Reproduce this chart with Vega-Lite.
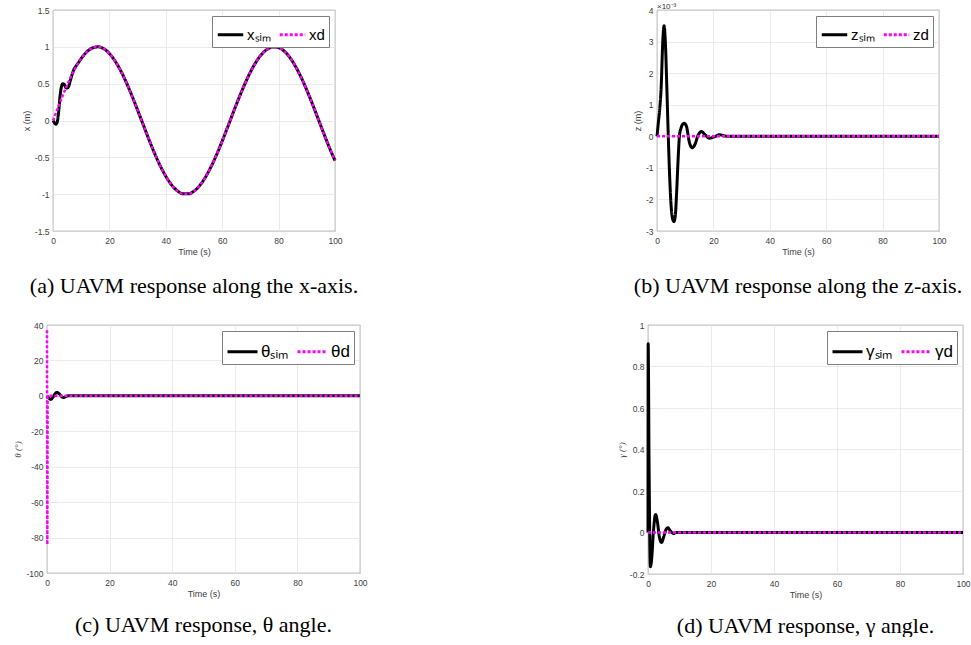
{
  "$schema": "https://vega.github.io/schema/vega-lite/v6.json",
  "padding": {"left": 13, "top": 2, "right": 0, "bottom": 0},
  "background": "white",
  "bounds": "full",
  "spacing": 23,
  "resolve": {"scale": {"color": "independent", "strokeDash": "independent", "x": "independent", "y": "independent"}, "legend": {"color": "independent", "strokeDash": "independent"}},
  "datasets": {
    "a": [
      {"t": 0, "v": 0, "s": "sim"}, {"t": 0.5, "v": -0.03, "s": "sim"}, {"t": 1, "v": -0.05, "s": "sim"}, {"t": 1.5, "v": -0.02, "s": "sim"}, {"t": 2, "v": 0.12, "s": "sim"}, {"t": 2.5, "v": 0.33, "s": "sim"}, {"t": 3, "v": 0.46, "s": "sim"}, {"t": 3.5, "v": 0.5, "s": "sim"}, {"t": 4, "v": 0.49, "s": "sim"}, {"t": 4.5, "v": 0.45, "s": "sim"}, {"t": 5, "v": 0.44, "s": "sim"}, {"t": 5.5, "v": 0.46, "s": "sim"}, {"t": 6, "v": 0.52, "s": "sim"}, {"t": 6.5, "v": 0.59, "s": "sim"}, {"t": 7, "v": 0.65, "s": "sim"}, {"t": 7.5, "v": 0.7, "s": "sim"}, {"t": 8, "v": 0.73, "s": "sim"}, {"t": 9, "v": 0.785, "s": "sim"},
      {"t": 10, "v": 0.841, "s": "sim"}, {"t": 12, "v": 0.932, "s": "sim"}, {"t": 14, "v": 0.985, "s": "sim"}, {"t": 16, "v": 1.0, "s": "sim"}, {"t": 18, "v": 0.974, "s": "sim"}, {"t": 20, "v": 0.909, "s": "sim"}, {"t": 22, "v": 0.808, "s": "sim"}, {"t": 24, "v": 0.676, "s": "sim"}, {"t": 26, "v": 0.516, "s": "sim"}, {"t": 28, "v": 0.335, "s": "sim"}, {"t": 30, "v": 0.141, "s": "sim"}, {"t": 32, "v": -0.058, "s": "sim"}, {"t": 34, "v": -0.256, "s": "sim"}, {"t": 36, "v": -0.443, "s": "sim"}, {"t": 38, "v": -0.612, "s": "sim"}, {"t": 40, "v": -0.757, "s": "sim"}, {"t": 42, "v": -0.872, "s": "sim"}, {"t": 44, "v": -0.952, "s": "sim"}, {"t": 46, "v": -0.994, "s": "sim"}, {"t": 48, "v": -0.996, "s": "sim"}, {"t": 50, "v": -0.959, "s": "sim"}, {"t": 52, "v": -0.884, "s": "sim"}, {"t": 54, "v": -0.773, "s": "sim"}, {"t": 56, "v": -0.631, "s": "sim"}, {"t": 58, "v": -0.465, "s": "sim"}, {"t": 60, "v": -0.279, "s": "sim"}, {"t": 62, "v": -0.083, "s": "sim"}, {"t": 64, "v": 0.117, "s": "sim"}, {"t": 66, "v": 0.312, "s": "sim"}, {"t": 68, "v": 0.494, "s": "sim"}, {"t": 70, "v": 0.657, "s": "sim"}, {"t": 72, "v": 0.794, "s": "sim"}, {"t": 74, "v": 0.899, "s": "sim"}, {"t": 76, "v": 0.968, "s": "sim"}, {"t": 78, "v": 0.999, "s": "sim"}, {"t": 80, "v": 0.989, "s": "sim"}, {"t": 82, "v": 0.941, "s": "sim"}, {"t": 84, "v": 0.855, "s": "sim"}, {"t": 86, "v": 0.734, "s": "sim"}, {"t": 88, "v": 0.585, "s": "sim"}, {"t": 90, "v": 0.412, "s": "sim"}, {"t": 92, "v": 0.223, "s": "sim"}, {"t": 94, "v": 0.025, "s": "sim"}, {"t": 96, "v": -0.174, "s": "sim"}, {"t": 98, "v": -0.367, "s": "sim"}, {"t": 100, "v": -0.544, "s": "sim"},
      {"t": 0, "v": 0, "s": "d"}, {"t": 1, "v": 0.1, "s": "d"}, {"t": 2, "v": 0.199, "s": "d"}, {"t": 3, "v": 0.296, "s": "d"}, {"t": 4, "v": 0.389, "s": "d"}, {"t": 5, "v": 0.479, "s": "d"}, {"t": 6, "v": 0.565, "s": "d"}, {"t": 7, "v": 0.644, "s": "d"}, {"t": 8, "v": 0.717, "s": "d"}, {"t": 9, "v": 0.783, "s": "d"},
      {"t": 10, "v": 0.841, "s": "d"}, {"t": 12, "v": 0.932, "s": "d"}, {"t": 14, "v": 0.985, "s": "d"}, {"t": 16, "v": 1.0, "s": "d"}, {"t": 18, "v": 0.974, "s": "d"}, {"t": 20, "v": 0.909, "s": "d"}, {"t": 22, "v": 0.808, "s": "d"}, {"t": 24, "v": 0.676, "s": "d"}, {"t": 26, "v": 0.516, "s": "d"}, {"t": 28, "v": 0.335, "s": "d"}, {"t": 30, "v": 0.141, "s": "d"}, {"t": 32, "v": -0.058, "s": "d"}, {"t": 34, "v": -0.256, "s": "d"}, {"t": 36, "v": -0.443, "s": "d"}, {"t": 38, "v": -0.612, "s": "d"}, {"t": 40, "v": -0.757, "s": "d"}, {"t": 42, "v": -0.872, "s": "d"}, {"t": 44, "v": -0.952, "s": "d"}, {"t": 46, "v": -0.994, "s": "d"}, {"t": 48, "v": -0.996, "s": "d"}, {"t": 50, "v": -0.959, "s": "d"}, {"t": 52, "v": -0.884, "s": "d"}, {"t": 54, "v": -0.773, "s": "d"}, {"t": 56, "v": -0.631, "s": "d"}, {"t": 58, "v": -0.465, "s": "d"}, {"t": 60, "v": -0.279, "s": "d"}, {"t": 62, "v": -0.083, "s": "d"}, {"t": 64, "v": 0.117, "s": "d"}, {"t": 66, "v": 0.312, "s": "d"}, {"t": 68, "v": 0.494, "s": "d"}, {"t": 70, "v": 0.657, "s": "d"}, {"t": 72, "v": 0.794, "s": "d"}, {"t": 74, "v": 0.899, "s": "d"}, {"t": 76, "v": 0.968, "s": "d"}, {"t": 78, "v": 0.999, "s": "d"}, {"t": 80, "v": 0.989, "s": "d"}, {"t": 82, "v": 0.941, "s": "d"}, {"t": 84, "v": 0.855, "s": "d"}, {"t": 86, "v": 0.734, "s": "d"}, {"t": 88, "v": 0.585, "s": "d"}, {"t": 90, "v": 0.412, "s": "d"}, {"t": 92, "v": 0.223, "s": "d"}, {"t": 94, "v": 0.025, "s": "d"}, {"t": 96, "v": -0.174, "s": "d"}, {"t": 98, "v": -0.367, "s": "d"}, {"t": 100, "v": -0.544, "s": "d"}
    ],
    "b": [
      {"t": 0, "v": 0, "s": "sim"}, {"t": 0.5, "v": 0.00045, "s": "sim"}, {"t": 1, "v": 0.0009, "s": "sim"}, {"t": 1.5, "v": 0.0016, "s": "sim"}, {"t": 2, "v": 0.0029, "s": "sim"}, {"t": 2.5, "v": 0.0035, "s": "sim"}, {"t": 3, "v": 0.0029, "s": "sim"}, {"t": 3.5, "v": 0.0015, "s": "sim"}, {"t": 4, "v": 0.0, "s": "sim"}, {"t": 4.5, "v": -0.0013, "s": "sim"}, {"t": 5, "v": -0.0022, "s": "sim"}, {"t": 5.5, "v": -0.0026, "s": "sim"}, {"t": 6, "v": -0.0027, "s": "sim"}, {"t": 6.5, "v": -0.0025, "s": "sim"}, {"t": 7, "v": -0.0017, "s": "sim"}, {"t": 7.5, "v": -0.0007, "s": "sim"}, {"t": 8, "v": 0.00005, "s": "sim"}, {"t": 8.5, "v": 0.00025, "s": "sim"}, {"t": 9, "v": 0.00037, "s": "sim"}, {"t": 9.7, "v": 0.00041, "s": "sim"}, {"t": 10.5, "v": 0.0003, "s": "sim"}, {"t": 11, "v": 0.00005, "s": "sim"}, {"t": 11.5, "v": -0.0002, "s": "sim"}, {"t": 12.5, "v": -0.00036, "s": "sim"}, {"t": 13.5, "v": -0.00025, "s": "sim"}, {"t": 14.5, "v": 0.00002, "s": "sim"}, {"t": 15.8, "v": 0.00015, "s": "sim"}, {"t": 17, "v": 0.00005, "s": "sim"}, {"t": 18.7, "v": -0.00006, "s": "sim"}, {"t": 20.5, "v": -0.00001, "s": "sim"}, {"t": 22.2, "v": 0.00005, "s": "sim"}, {"t": 24, "v": 0.00001, "s": "sim"}, {"t": 26, "v": 0, "s": "sim"}, {"t": 100, "v": 0, "s": "sim"},
      {"t": 0, "v": 0, "s": "d"}, {"t": 100, "v": 0, "s": "d"}
    ],
    "c": [
      {"t": 0, "v": 0, "s": "sim"}, {"t": 0.5, "v": -1, "s": "sim"}, {"t": 1.2, "v": -2, "s": "sim"}, {"t": 2, "v": -0.5, "s": "sim"}, {"t": 2.5, "v": 1, "s": "sim"}, {"t": 3.2, "v": 1.9, "s": "sim"}, {"t": 4, "v": 1, "s": "sim"}, {"t": 4.7, "v": -0.5, "s": "sim"}, {"t": 5.3, "v": -0.9, "s": "sim"}, {"t": 6, "v": -0.4, "s": "sim"}, {"t": 7, "v": 0.1, "s": "sim"}, {"t": 8, "v": 0, "s": "sim"}, {"t": 100, "v": 0, "s": "sim"},
      {"t": 0, "v": 37, "s": "d"}, {"t": 0.1, "v": -84, "s": "d"}, {"t": 0.2, "v": 0, "s": "d"}, {"t": 100, "v": 0, "s": "d"}
    ],
    "d": [
      {"t": 0, "v": 0, "s": "sim"}, {"t": 0.05, "v": 0.91, "s": "sim"}, {"t": 0.35, "v": 0.3, "s": "sim"}, {"t": 0.75, "v": -0.165, "s": "sim"}, {"t": 1.2, "v": -0.12, "s": "sim"}, {"t": 1.7, "v": 0.0, "s": "sim"}, {"t": 2.4, "v": 0.087, "s": "sim"}, {"t": 3.0, "v": 0.05, "s": "sim"}, {"t": 3.6, "v": -0.02, "s": "sim"}, {"t": 4.3, "v": -0.048, "s": "sim"}, {"t": 5.0, "v": -0.02, "s": "sim"}, {"t": 5.6, "v": 0.01, "s": "sim"}, {"t": 6.3, "v": 0.023, "s": "sim"}, {"t": 7.0, "v": 0.01, "s": "sim"}, {"t": 8.1, "v": -0.005, "s": "sim"}, {"t": 9, "v": 0, "s": "sim"}, {"t": 100, "v": 0, "s": "sim"},
      {"t": 0, "v": 0, "s": "d"}, {"t": 100, "v": 0, "s": "d"}
    ]
  },
  "vconcat": [
    {
      "bounds": "flush",
      "spacing": 0,
      "resolve": {"scale": {"color": "independent", "strokeDash": "independent", "x": "independent", "y": "independent"}, "legend": {"color": "independent", "strokeDash": "independent"}},
      "hconcat": [
        {"width": 6, "height": 221, "view": {"stroke": null}, "data": {"values": [{"k": 1}]}, "mark": {"type": "point", "opacity": 0}},
        {
          "width": 282, "height": 221,
          "data": {"name": "a"},
          "title": {"text": "(a) UAVM response along the x-axis.", "offset": 19},
          "encoding": {
            "x": {"field": "t", "type": "quantitative", "scale": {"domain": [0, 100], "nice": false}, "axis": {"title": "Time (s)", "values": [0, 20, 40, 60, 80, 100], "labelExpr": "'' + datum.value"}},
            "y": {"field": "v", "type": "quantitative", "scale": {"domain": [-1.5, 1.5], "nice": false}, "axis": {"title": "x (m)", "values": [-1.5, -1, -0.5, 0, 0.5, 1, 1.5], "labelExpr": "'' + datum.value"}}
          },
          "layer": [
            {"transform": [{"filter": "datum.s == 'sim'"}], "mark": {"type": "line", "strokeWidth": 3, "interpolate": "monotone"},
             "encoding": {
               "color": {"field": "s", "type": "nominal", "scale": {"domain": ["sim", "d"], "range": ["#000000", "#ff00ff"]}, "legend": {"title": null, "direction": "horizontal", "labelExpr": "datum.label == 'sim' ? 'xₛᵢₘ' : 'xd'"}},
               "strokeDash": {"field": "s", "type": "nominal", "scale": {"domain": ["sim", "d"], "range": [[1, 0], [3, 2]]}, "legend": {"title": null, "direction": "horizontal", "labelExpr": "datum.label == 'sim' ? 'xₛᵢₘ' : 'xd'"}}
             }},
            {"transform": [{"filter": "datum.s == 'd'"}], "mark": {"type": "line", "strokeWidth": 2.5, "interpolate": "monotone"},
             "encoding": {
               "color": {"field": "s", "type": "nominal", "scale": {"domain": ["sim", "d"], "range": ["#000000", "#ff00ff"]}, "legend": {"title": null, "direction": "horizontal", "labelExpr": "datum.label == 'sim' ? 'xₛᵢₘ' : 'xd'"}},
               "strokeDash": {"field": "s", "type": "nominal", "scale": {"domain": ["sim", "d"], "range": [[1, 0], [3, 2]]}, "legend": {"title": null, "direction": "horizontal", "labelExpr": "datum.label == 'sim' ? 'xₛᵢₘ' : 'xd'"}}
             }}
          ]
        },
        {"width": 322, "height": 221, "view": {"stroke": null}, "data": {"values": [{"k": 1}]}, "mark": {"type": "point", "opacity": 0}},
        {
          "width": 282, "height": 221,
          "data": {"name": "b"},
          "title": {"text": "(b) UAVM response along the z-axis.", "offset": 19},
          "layer": [
            {"transform": [{"filter": "datum.s == 'sim'"}], "mark": {"type": "line", "strokeWidth": 3, "interpolate": "monotone"},
             "encoding": {
               "x": {"field": "t", "type": "quantitative", "scale": {"domain": [0, 100], "nice": false}, "axis": {"title": "Time (s)", "values": [0, 20, 40, 60, 80, 100], "labelOverlap": false, "labelExpr": "'' + datum.value"}},
               "y": {"field": "v", "type": "quantitative", "scale": {"domain": [-0.003, 0.004], "nice": false}, "axis": {"title": "z (m)", "values": [-0.003, -0.002, -0.001, 0, 0.001, 0.002, 0.003, 0.004], "labelOverlap": false, "labelExpr": "'' + round(datum.value * 1000)"}},
               "color": {"field": "s", "type": "nominal", "scale": {"domain": ["sim", "d"], "range": ["#000000", "#ff00ff"]}, "legend": {"title": null, "direction": "horizontal", "labelExpr": "datum.label == 'sim' ? 'zₛᵢₘ' : 'zd'"}},
               "strokeDash": {"field": "s", "type": "nominal", "scale": {"domain": ["sim", "d"], "range": [[1, 0], [3, 2]]}, "legend": {"title": null, "direction": "horizontal", "labelExpr": "datum.label == 'sim' ? 'zₛᵢₘ' : 'zd'"}}
             }},
            {"transform": [{"filter": "datum.s == 'd'"}], "mark": {"type": "line", "strokeWidth": 2.5, "interpolate": "monotone"},
             "encoding": {
               "x": {"field": "t", "type": "quantitative", "scale": {"domain": [0, 100], "nice": false}, "axis": {"title": "Time (s)", "values": [0, 20, 40, 60, 80, 100], "labelOverlap": false, "labelExpr": "'' + datum.value"}},
               "y": {"field": "v", "type": "quantitative", "scale": {"domain": [-0.003, 0.004], "nice": false}, "axis": {"title": "z (m)", "values": [-0.003, -0.002, -0.001, 0, 0.001, 0.002, 0.003, 0.004], "labelOverlap": false, "labelExpr": "'' + round(datum.value * 1000)"}},
               "color": {"field": "s", "type": "nominal", "scale": {"domain": ["sim", "d"], "range": ["#000000", "#ff00ff"]}, "legend": {"title": null, "direction": "horizontal", "labelExpr": "datum.label == 'sim' ? 'zₛᵢₘ' : 'zd'"}},
               "strokeDash": {"field": "s", "type": "nominal", "scale": {"domain": ["sim", "d"], "range": [[1, 0], [3, 2]]}, "legend": {"title": null, "direction": "horizontal", "labelExpr": "datum.label == 'sim' ? 'zₛᵢₘ' : 'zd'"}}
             }},
            {"data": {"values": [{"lab": "×10⁻³"}]}, "mark": {"type": "text", "align": "left", "baseline": "middle", "dy": -3, "fontSize": 8, "fill": "#333333", "font": "Liberation Sans"},
             "encoding": {
               "x": {"datum": 0, "type": "quantitative", "scale": {"domain": [0, 100], "nice": false}, "axis": {"title": "Time (s)", "values": [0, 20, 40, 60, 80, 100], "labelOverlap": false, "labelExpr": "'' + datum.value"}},
               "y": {"datum": 0.004, "type": "quantitative", "scale": {"domain": [-0.003, 0.004], "nice": false}, "axis": {"title": "z (m)", "values": [-0.003, -0.002, -0.001, 0, 0.001, 0.002, 0.003, 0.004], "labelOverlap": false, "labelExpr": "'' + round(datum.value * 1000)"}},
               "text": {"field": "lab", "type": "nominal"}}}
          ]
        }
      ]
    },
    {
      "bounds": "flush",
      "spacing": 0,
      "resolve": {"scale": {"color": "independent", "strokeDash": "independent", "x": "independent", "y": "independent"}, "legend": {"color": "independent", "strokeDash": "independent"}},
      "hconcat": [
        {
          "width": 313, "height": 248,
          "data": {"name": "c"},
          "title": {"text": "(c) UAVM response, θ angle.", "offset": 16},
          "encoding": {
            "x": {"field": "t", "type": "quantitative", "scale": {"domain": [0, 100], "nice": false}, "axis": {"title": "Time (s)", "values": [0, 20, 40, 60, 80, 100], "labelExpr": "'' + datum.value"}},
            "y": {"field": "v", "type": "quantitative", "scale": {"domain": [-100, 40], "nice": false}, "axis": {"title": "θ (°)", "titleFont": "Liberation Serif", "titleFontStyle": "italic", "values": [-100, -80, -60, -40, -20, 0, 20, 40], "labelExpr": "'' + datum.value"}}
          },
          "layer": [
            {"transform": [{"filter": "datum.s == 'sim'"}], "mark": {"type": "line", "strokeWidth": 3, "interpolate": "monotone"},
             "encoding": {
               "color": {"field": "s", "type": "nominal", "scale": {"domain": ["sim", "d"], "range": ["#000000", "#ff00ff"]}, "legend": {"title": null, "direction": "horizontal", "labelFontSize": 17, "symbolSize": 900, "labelExpr": "datum.label == 'sim' ? 'θₛᵢₘ' : 'θd'"}},
               "strokeDash": {"field": "s", "type": "nominal", "scale": {"domain": ["sim", "d"], "range": [[1, 0], [3, 2]]}, "legend": {"title": null, "direction": "horizontal", "labelFontSize": 17, "symbolSize": 900, "labelExpr": "datum.label == 'sim' ? 'θₛᵢₘ' : 'θd'"}}
             }},
            {"transform": [{"filter": "datum.s == 'd'"}], "mark": {"type": "line", "strokeWidth": 2.5, "interpolate": "linear"},
             "encoding": {
               "color": {"field": "s", "type": "nominal", "scale": {"domain": ["sim", "d"], "range": ["#000000", "#ff00ff"]}, "legend": {"title": null, "direction": "horizontal", "labelFontSize": 17, "symbolSize": 900, "labelExpr": "datum.label == 'sim' ? 'θₛᵢₘ' : 'θd'"}},
               "strokeDash": {"field": "s", "type": "nominal", "scale": {"domain": ["sim", "d"], "range": [[1, 0], [3, 2]]}, "legend": {"title": null, "direction": "horizontal", "labelFontSize": 17, "symbolSize": 900, "labelExpr": "datum.label == 'sim' ? 'θₛᵢₘ' : 'θd'"}}
             }}
          ]
        },
        {"width": 288, "height": 248, "view": {"stroke": null}, "data": {"values": [{"k": 1}]}, "mark": {"type": "point", "opacity": 0}},
        {
          "width": 315, "height": 249,
          "data": {"name": "d"},
          "title": {"text": "(d) UAVM response, γ angle.", "offset": 16},
          "encoding": {
            "x": {"field": "t", "type": "quantitative", "scale": {"domain": [0, 100], "nice": false}, "axis": {"title": "Time (s)", "values": [0, 20, 40, 60, 80, 100], "labelExpr": "'' + datum.value"}},
            "y": {"field": "v", "type": "quantitative", "scale": {"domain": [-0.2, 1], "nice": false}, "axis": {"title": "γ (°)", "titleFont": "Liberation Serif", "titleFontStyle": "italic", "values": [-0.2, 0, 0.2, 0.4, 0.6, 0.8, 1], "labelExpr": "'' + datum.value"}}
          },
          "layer": [
            {"transform": [{"filter": "datum.s == 'sim'"}], "mark": {"type": "line", "strokeWidth": 3, "interpolate": "monotone"},
             "encoding": {
               "color": {"field": "s", "type": "nominal", "scale": {"domain": ["sim", "d"], "range": ["#000000", "#ff00ff"]}, "legend": {"title": null, "direction": "horizontal", "labelFontSize": 17, "symbolSize": 900, "labelExpr": "datum.label == 'sim' ? 'γₛᵢₘ' : 'γd'"}},
               "strokeDash": {"field": "s", "type": "nominal", "scale": {"domain": ["sim", "d"], "range": [[1, 0], [3, 2]]}, "legend": {"title": null, "direction": "horizontal", "labelFontSize": 17, "symbolSize": 900, "labelExpr": "datum.label == 'sim' ? 'γₛᵢₘ' : 'γd'"}}
             }},
            {"transform": [{"filter": "datum.s == 'd'"}], "mark": {"type": "line", "strokeWidth": 2.5, "interpolate": "monotone"},
             "encoding": {
               "color": {"field": "s", "type": "nominal", "scale": {"domain": ["sim", "d"], "range": ["#000000", "#ff00ff"]}, "legend": {"title": null, "direction": "horizontal", "labelFontSize": 17, "symbolSize": 900, "labelExpr": "datum.label == 'sim' ? 'γₛᵢₘ' : 'γd'"}},
               "strokeDash": {"field": "s", "type": "nominal", "scale": {"domain": ["sim", "d"], "range": [[1, 0], [3, 2]]}, "legend": {"title": null, "direction": "horizontal", "labelFontSize": 17, "symbolSize": 900, "labelExpr": "datum.label == 'sim' ? 'γₛᵢₘ' : 'γd'"}}
             }}
          ]
        }
      ]
    }
  ],
  "config": {
    "font": "Liberation Sans",
    "view": {"stroke": "#4d4d4d", "strokeWidth": 0.8},
    "axis": {"labelFont": "Liberation Sans", "labelFontSize": 8.5, "labelColor": "#404040", "titleFont": "Liberation Sans", "titleFontSize": 9, "titleFontWeight": "normal", "titleColor": "#404040", "domain": false, "ticks": false, "labelPadding": 4, "titlePadding": 3, "gridColor": "#e6e6e6", "gridWidth": 0.8, "labelFlush": false, "labelOverlap": false},
    "axisX": {"labelPadding": 5},
    "legend": {"orient": "top-right", "offset": 6, "padding": 4, "strokeColor": "#7f7f7f", "fillColor": "white", "labelFont": "Liberation Sans", "labelFontSize": 15, "labelColor": "#000000", "symbolType": "stroke", "symbolSize": 650, "symbolStrokeWidth": 3, "labelOffset": 2, "columnPadding": 2},
    "title": {"font": "Liberation Serif", "fontSize": 22, "fontWeight": "normal", "color": "#000000", "orient": "bottom", "anchor": "middle", "frame": "group"}
  }
}
